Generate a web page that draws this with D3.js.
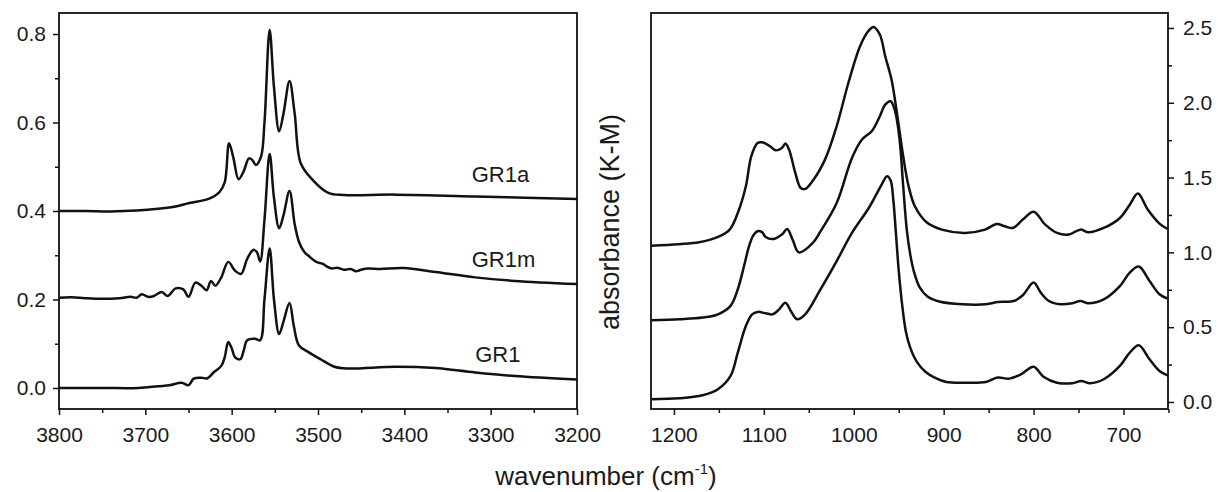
<!DOCTYPE html>
<html>
<head>
<meta charset="utf-8">
<script src="https://cdn.jsdelivr.net/npm/d3@7"></script>
<style>
  body { margin: 0; background: #fff; }
  text { font-family: "Liberation Sans", Arial, sans-serif; fill: #1a1a1a; }
</style>
</head>
<body>
<script>
// O-H stretching region (left panel)
var ohXTicks = [3800, 3700, 3600, 3500, 3400, 3300, 3200];
var ohYTicks = [0.0, 0.2, 0.4, 0.6, 0.8];

var gr1aWn  = [3800, 3770, 3740, 3710, 3685, 3665, 3649, 3626, 3614, 3608, 3603, 3598, 3592, 3586, 3580, 3576, 3572, 3566, 3562, 3556, 3551, 3545, 3540, 3533, 3527, 3520, 3506, 3488, 3470, 3410, 3318, 3260, 3200];
var gr1aAbs = [0.400, 0.400, 0.399, 0.401, 0.405, 0.410, 0.418, 0.428, 0.443, 0.465, 0.553, 0.520, 0.472, 0.490, 0.519, 0.515, 0.504, 0.523, 0.600, 0.809, 0.680, 0.580, 0.620, 0.694, 0.620, 0.508, 0.470, 0.441, 0.436, 0.437, 0.433, 0.430, 0.427];

var gr1mWn  = [3800, 3785, 3770, 3750, 3730, 3717, 3710, 3704, 3697, 3690, 3681, 3674, 3665, 3656, 3650, 3642, 3635, 3629, 3624, 3619, 3612, 3604, 3596, 3589, 3582, 3575, 3571, 3567, 3562, 3556, 3551, 3545, 3540, 3533, 3527, 3522, 3516, 3510, 3502, 3495, 3490, 3484, 3478, 3470, 3462, 3456, 3449, 3442, 3428, 3401, 3364, 3318, 3272, 3200];
var gr1mAbs = [0.204, 0.205, 0.203, 0.2015, 0.203, 0.206, 0.204, 0.212, 0.206, 0.208, 0.217, 0.208, 0.225, 0.223, 0.206, 0.238, 0.231, 0.221, 0.242, 0.231, 0.250, 0.285, 0.265, 0.258, 0.292, 0.312, 0.308, 0.286, 0.380, 0.529, 0.430, 0.361, 0.390, 0.445, 0.370, 0.330, 0.308, 0.297, 0.285, 0.281, 0.275, 0.270, 0.272, 0.267, 0.269, 0.264, 0.268, 0.270, 0.269, 0.271, 0.262, 0.250, 0.242, 0.235];

var gr1Wn  = [3800, 3750, 3708, 3685, 3672, 3658, 3650, 3644, 3635, 3628, 3621, 3612, 3608, 3604, 3600, 3596, 3590, 3586, 3582, 3573, 3567, 3562, 3556, 3551, 3545, 3540, 3533, 3528, 3522, 3511, 3497, 3481, 3465, 3410, 3364, 3318, 3272, 3200];
var gr1Abs = [0.000, 0.000, 0.000, 0.004, 0.006, 0.012, 0.006, 0.021, 0.023, 0.022, 0.035, 0.050, 0.070, 0.104, 0.090, 0.069, 0.065, 0.085, 0.108, 0.111, 0.108, 0.200, 0.315, 0.200, 0.122, 0.150, 0.192, 0.140, 0.096, 0.081, 0.065, 0.048, 0.044, 0.048, 0.045, 0.035, 0.027, 0.019];

var ohNames = ["GR1a", "GR1m", "GR1"];
var ohLabelWn = [3322, 3322, 3318];
var ohLabelAbs = [0.466, 0.274, 0.059];

// lattice region (right panel)
var latXTicks = [1200, 1100, 1000, 900, 800, 700];
var latYTicks = [0.0, 0.5, 1.0, 1.5, 2.0, 2.5];

var topWn  = [1225, 1195, 1172, 1151, 1138, 1129, 1120, 1114, 1107, 1102, 1093, 1087, 1080, 1076, 1072, 1065, 1059, 1054, 1046, 1032, 1019, 1006, 993, 984, 978, 971, 965, 958, 952, 945, 939, 932, 919, 902, 876, 854, 841, 832, 823, 812, 800, 787, 774, 761, 748, 739, 722, 704, 693, 684, 673, 660, 651];
var topAbs = [1.045, 1.055, 1.067, 1.103, 1.152, 1.263, 1.442, 1.642, 1.731, 1.736, 1.709, 1.682, 1.698, 1.727, 1.687, 1.531, 1.430, 1.424, 1.475, 1.620, 1.843, 2.132, 2.377, 2.478, 2.507, 2.456, 2.311, 2.155, 1.932, 1.642, 1.442, 1.308, 1.201, 1.152, 1.130, 1.152, 1.190, 1.174, 1.163, 1.219, 1.272, 1.185, 1.130, 1.119, 1.152, 1.134, 1.163, 1.230, 1.319, 1.393, 1.286, 1.192, 1.156];

var midWn  = [1225, 1194, 1168, 1151, 1137, 1129, 1122, 1117, 1112, 1107, 1102, 1098, 1089, 1080, 1074, 1068, 1061, 1046, 1037, 1019, 1002, 991, 980, 971, 965, 959, 954, 949, 945, 941, 937, 933, 927, 918, 905, 879, 853, 840, 832, 822, 812, 800, 792, 783, 770, 757, 748, 739, 722, 704, 693, 683, 671, 660, 651];
var midAbs = [0.546, 0.553, 0.564, 0.586, 0.642, 0.753, 0.909, 1.030, 1.110, 1.141, 1.135, 1.103, 1.090, 1.119, 1.156, 1.085, 1.000, 1.060, 1.140, 1.330, 1.631, 1.753, 1.810, 1.910, 1.988, 2.010, 1.943, 1.753, 1.442, 1.150, 0.980, 0.870, 0.770, 0.705, 0.672, 0.653, 0.653, 0.668, 0.670, 0.675, 0.713, 0.798, 0.731, 0.675, 0.653, 0.660, 0.675, 0.660, 0.686, 0.775, 0.865, 0.905, 0.809, 0.720, 0.691];

var botWn  = [1225, 1194, 1168, 1151, 1137, 1129, 1120, 1113, 1107, 1098, 1090, 1083, 1076, 1070, 1063, 1054, 1037, 1019, 1002, 984, 976, 969, 963, 959, 956, 953, 950, 946, 942, 937, 930, 920, 910, 897, 875, 853, 840, 827, 814, 800, 789, 774, 757, 747, 737, 722, 704, 693, 683, 671, 660, 651];
var botAbs = [0.018, 0.0245, 0.045, 0.085, 0.174, 0.330, 0.508, 0.586, 0.602, 0.593, 0.586, 0.619, 0.664, 0.608, 0.553, 0.586, 0.753, 0.942, 1.130, 1.290, 1.375, 1.453, 1.508, 1.480, 1.350, 1.120, 0.880, 0.640, 0.470, 0.360, 0.270, 0.200, 0.163, 0.134, 0.129, 0.134, 0.163, 0.156, 0.185, 0.236, 0.169, 0.129, 0.125, 0.140, 0.125, 0.152, 0.241, 0.330, 0.379, 0.285, 0.207, 0.178];

var W = 1218, H = 492;
var plotTop = 13, plotBottom = 409;

var svg = d3.select("body").append("svg")
  .attr("width", W).attr("height", H);

svg.append("rect").attr("width", W).attr("height", H).attr("fill", "#fff");

function pairs(wn, ab) {
  return wn.map(function(d, i) { return [d, ab[i]]; });
}

function styleAxis(g) {
  g.select(".domain").remove();
  g.selectAll("line").attr("stroke", "#111").attr("stroke-width", 1.5);
  g.selectAll("text").style("font-size", "21px").attr("fill", "#1a1a1a");
}

function panel(opt) {
  var x = d3.scaleLinear().domain(opt.xd).range([opt.x0, opt.x1]);
  var y = d3.scaleLinear().domain(opt.yd).range([plotBottom, plotTop]);

  // minor ticks first
  svg.append("g").attr("transform", "translate(0," + plotBottom + ")")
    .call(d3.axisBottom(x).tickValues(opt.xMinor).tickSize(4).tickFormat(""))
    .call(styleAxis);
  svg.append("g").attr("transform", "translate(0," + plotBottom + ")")
    .call(d3.axisBottom(x).tickValues(opt.xTicks).tickSize(6).tickPadding(12).tickFormat(d3.format("d")))
    .call(styleAxis);

  var yAx = opt.yRight ? d3.axisRight : d3.axisLeft;
  var yPos = opt.yRight ? opt.x1 : opt.x0;
  svg.append("g").attr("transform", "translate(" + yPos + ",0)")
    .call(yAx(y).tickValues(opt.yMinor).tickSize(4).tickFormat(""))
    .call(styleAxis);
  svg.append("g").attr("transform", "translate(" + yPos + ",0)")
    .call(yAx(y).tickValues(opt.yTicks).tickSize(6).tickPadding(opt.yRight ? 9 : 7).tickFormat(d3.format(".1f")))
    .call(styleAxis);

  var line = d3.line()
    .x(function(d) { return x(d[0]); })
    .y(function(d) { return y(d[1]); })
    .curve(d3.curveCatmullRom.alpha(0.5));

  svg.append("g").selectAll("path").data(opt.series).enter().append("path")
    .attr("d", line)
    .attr("fill", "none")
    .attr("stroke", "#111")
    .attr("stroke-width", 2.5)
    .attr("stroke-linejoin", "round");

  svg.append("rect")
    .attr("x", opt.x0).attr("y", plotTop)
    .attr("width", opt.x1 - opt.x0).attr("height", plotBottom - plotTop)
    .attr("fill", "none").attr("stroke", "#111").attr("stroke-width", 1.8);

  return { x: x, y: y };
}

var ohPanel = panel({
  x0: 59, x1: 577,
  xd: [3800, 3200], yd: [-0.0475, 0.8475],
  xTicks: ohXTicks, xMinor: d3.range(3750, 3200, -100),
  yTicks: ohYTicks, yMinor: [0.1, 0.3, 0.5, 0.7],
  yRight: false,
  series: [pairs(gr1aWn, gr1aAbs), pairs(gr1mWn, gr1mAbs), pairs(gr1Wn, gr1Abs)]
});

var latPanel = panel({
  x0: 651, x1: 1168,
  xd: [1225.5, 650.5], yd: [-0.047, 2.6],
  xTicks: latXTicks, xMinor: d3.range(1150, 640, -100),
  yTicks: latYTicks, yMinor: [0.25, 0.75, 1.25, 1.75, 2.25],
  yRight: true,
  series: [pairs(topWn, topAbs), pairs(midWn, midAbs), pairs(botWn, botAbs)]
});

svg.selectAll(".name").data(ohNames).enter().append("text")
  .attr("class", "name")
  .attr("x", function(d, i) { return ohPanel.x(ohLabelWn[i]); })
  .attr("y", function(d, i) { return ohPanel.y(ohLabelAbs[i]); })
  .style("font-size", "22px")
  .text(function(d) { return d; });

// axis titles
var xt = svg.append("text")
  .attr("x", 606).attr("y", 485)
  .attr("text-anchor", "middle")
  .style("font-size", "26px");
xt.append("tspan").text("wavenumber (cm");
xt.append("tspan").attr("dy", -11).style("font-size", "15px").text("-1");
xt.append("tspan").attr("dy", 11).text(")");

svg.append("text")
  .attr("transform", "translate(619,222) rotate(-90)")
  .attr("text-anchor", "middle")
  .style("font-size", "27px")
  .text("absorbance (K-M)");
</script>
</body>
</html>
